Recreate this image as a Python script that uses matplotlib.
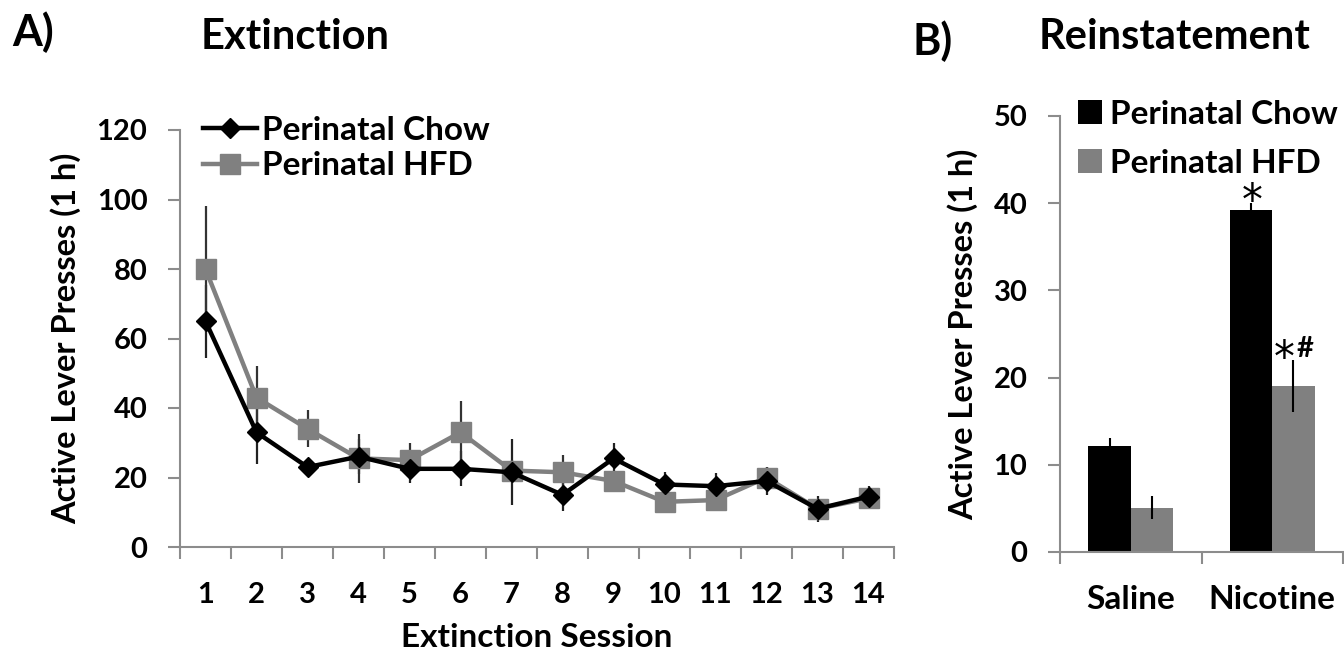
import numpy as np
import matplotlib
matplotlib.use('Agg')
import matplotlib.pyplot as plt
from matplotlib.ticker import FixedLocator

plt.rcParams['font.family'] = ['Lato', 'DejaVu Sans']
plt.rcParams['font.weight'] = 'bold'
plt.rcParams['axes.labelweight'] = 'bold'

# ── Dados ────────────────────────────────────────────────────────────────────
sessions = list(range(1, 15))
chow_ext     = [65, 33, 23, 26, 22.5, 22.5, 21.5, 15, 25.5, 18, 17.5, 19, 11, 14.5]
chow_ext_err = [10.5, 9, 2, 5, 4, 5, 9.5, 4.5, 4.5, 3.5, 3.8, 4, 3.8, 3]
hfd_ext      = [80, 43, 34, 25.5, 25, 33, 22, 21.5, 19, 13, 13.5, 20, 11, 14]
hfd_ext_err  = [18, 9, 5.3, 7, 5, 9, 3, 5, 3, 2, 2, 3, 2, 3]

groups_b     = ['Saline', 'Nicotine']
chow_rein     = [12.1, 39.2]
chow_rein_err = [1.0, 0.8]
hfd_rein      = [5.1, 19.0]
hfd_rein_err  = [1.3, 3.0]
star_chow = [False, True]   # * vs salina
star_hfd  = [False, True]   # * vs salina
hash_hfd  = [False, True]   # # vs chow

BLACK = '#000000'
GRAY  = '#808080'
SPINE = '#8c8c8c'

fig = plt.figure(figsize=(13.44, 6.58), dpi=100)

# ── A) Extinção ──────────────────────────────────────────────────────────────
axA = fig.add_axes([180/1344, 111/658, 714/1344, 417/658])
axA.errorbar(sessions, chow_ext, yerr=chow_ext_err, fmt='none', ecolor='#222222',
             elinewidth=1.6, capsize=0, zorder=2)
axA.errorbar(sessions, hfd_ext, yerr=hfd_ext_err, fmt='none', ecolor='#333333',
             elinewidth=1.6, capsize=0, zorder=2)
axA.plot(sessions, hfd_ext, color=GRAY, lw=3.2, marker='s', ms=15,
         label='Perinatal HFD', zorder=3)
axA.plot(sessions, chow_ext, color=BLACK, lw=3.2, marker='D', ms=10,
         label='Perinatal Chow', zorder=4)

axA.set_xlim(0.5, 14.5)
axA.set_ylim(0, 120)
axA.set_yticks(range(0, 121, 20))
axA.set_xticks(sessions)
axA.xaxis.set_minor_locator(FixedLocator(np.arange(0.5, 15, 1)))
axA.tick_params(axis='x', which='major', length=0, pad=25, labelsize=21)
axA.tick_params(axis='x', which='minor', length=8.5, width=1.5, color=SPINE)
axA.tick_params(axis='y', length=8.5, width=1.5, color=SPINE, pad=15, labelsize=21)
for s in ['top', 'right']:
    axA.spines[s].set_visible(False)
for s in ['left', 'bottom']:
    axA.spines[s].set_color(SPINE)
    axA.spines[s].set_linewidth(1.5)
axA.set_ylabel('Active Lever Presses (1 h)', fontsize=23.5, labelpad=11)
axA.set_xlabel('Extinction Session', fontsize=24, labelpad=11)

h, l = axA.get_legend_handles_labels()
axA.legend(h[::-1], l[::-1], loc='upper left', bbox_to_anchor=(0.032, 1.034),
           frameon=False, fontsize=24, handlelength=1.63, handletextpad=0.15,
           labelspacing=0.2, borderaxespad=0, borderpad=0)

fig.text(12/1344, 1 - 32/658, 'A)', fontsize=31, va='center', ha='left')
fig.text(295/1344, 1 - 37/658, 'Extinction', fontsize=30, va='center', ha='center')

# ── B) Reinstatement ────────────────────────────────────────────────────────
axB = fig.add_axes([1060/1344, 106/658, 283/1344, 436/658])
xb = np.arange(len(groups_b))
w = 0.3
axB.bar(xb - w/2, chow_rein, w, color=BLACK, label='Perinatal Chow',
        yerr=chow_rein_err, error_kw=dict(ecolor=BLACK, elinewidth=1.5, capsize=0))
axB.bar(xb + w/2, hfd_rein, w, color=GRAY, label='Perinatal HFD',
        yerr=hfd_rein_err, error_kw=dict(ecolor=BLACK, elinewidth=1.5, capsize=0))

# marcas de significância
for i in range(len(groups_b)):
    if star_chow[i]:
        axB.annotate('*', (xb[i] - w/2, chow_rein[i] + chow_rein_err[i]),
                     xytext=(1, -8), textcoords='offset points', ha='center',
                     va='baseline', fontsize=30, fontweight='normal', family='DejaVu Sans')
    if star_hfd[i]:
        axB.annotate('*', (xb[i] + w/2, hfd_rein[i] + hfd_rein_err[i]),
                     xytext=(1, -8), textcoords='offset points', ha='right',
                     va='baseline', fontsize=30, fontweight='normal', family='DejaVu Sans')
    if hash_hfd[i]:
        axB.annotate('#', (xb[i] + w/2, hfd_rein[i] + hfd_rein_err[i]),
                     xytext=(2, 2), textcoords='offset points',
                     ha='left', va='baseline', fontsize=21)

axB.set_xlim(-0.5, 1.5)
axB.set_ylim(0, 50)
axB.set_yticks(range(0, 51, 10))
axB.set_xticks(xb)
axB.set_xticklabels(groups_b)
axB.xaxis.set_minor_locator(FixedLocator([-0.5, 0.5, 1.5]))
axB.tick_params(axis='x', which='major', length=0, pad=24, labelsize=24)
axB.tick_params(axis='x', which='minor', length=8.5, width=1.5, color=SPINE)
axB.tick_params(axis='y', length=8.5, width=1.5, color=SPINE, pad=15, labelsize=21)
for s in ['top', 'right']:
    axB.spines[s].set_visible(False)
for s in ['left', 'bottom']:
    axB.spines[s].set_color(SPINE)
    axB.spines[s].set_linewidth(1.5)
axB.set_ylabel('Active Lever Presses (1 h)', fontsize=23.5, labelpad=11)
axB.legend(loc='upper left', bbox_to_anchor=(0.064, 1.037), frameon=False, fontsize=24,
           handlelength=0.73, handleheight=0.73, handletextpad=0.24,
           labelspacing=0.6, borderaxespad=0, borderpad=0)

fig.text(912/1344, 1 - 41/658, 'B)', fontsize=31, va='center', ha='left')
fig.text(1175/1344, 1 - 37/658, 'Reinstatement', fontsize=30, va='center', ha='center')

fig.savefig('out.png', dpi=100)
plt.close(fig)
